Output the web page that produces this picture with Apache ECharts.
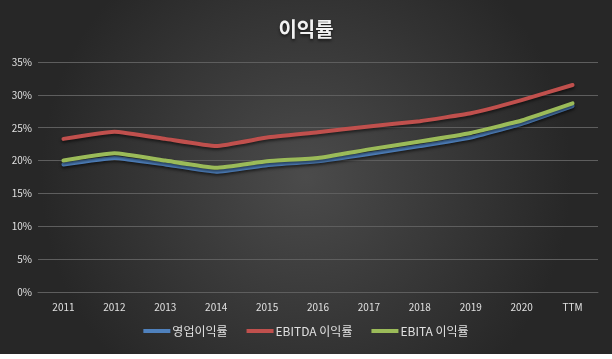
<!DOCTYPE html>
<html>
<head>
<meta charset="utf-8">
<script src="https://cdn.jsdelivr.net/npm/echarts@6/dist/echarts.min.js"></script>
<style>
html,body{margin:0;padding:0;background:#ffffff;}
#chart{width:612px;height:354px;}
</style>
</head>
<body>
<div id="chart"></div>
<script>
const categories = ['2011','2012','2013','2014','2015','2016','2017','2018','2019','2020','TTM'];
const operatingMargin = [19.4, 20.4, 19.4, 18.3, 19.3, 19.9, 21.0, 22.2, 23.5, 25.6, 28.3];
const ebitdaMargin = [23.3, 24.4, 23.3, 22.2, 23.5, 24.3, 25.2, 26.0, 27.2, 29.2, 31.5];
const ebitaMargin = [20.0, 21.1, 20.0, 18.9, 19.9, 20.4, 21.7, 22.9, 24.2, 26.1, 28.7];
const seriesNames = ['영업이익률', 'EBITDA 이익률', 'EBITA 이익률'];
const yTicks = {min: 0, max: 35, interval: 5};

const font = '"Noto Sans CJK KR", "Noto Sans", sans-serif';
const colors = ['#4f81bd', '#c0504d', '#9bbb59'];
const chart = echarts.init(document.getElementById('chart'), null, {renderer: 'canvas'});
function mk(name, data, color) {
  return {
    name: name, type: 'line', data: data, smooth: 0.12, symbol: 'none',
    lineStyle: {width: 4, color: color, shadowColor: 'rgba(0,0,0,0.55)', shadowBlur: 3, shadowOffsetY: 2, cap: 'round', join: 'round'},
    itemStyle: {color: color}
  };
}
chart.setOption({
  backgroundColor: {
    type: 'radial', x: 0.5, y: 0.5, r: 0.75,
    colorStops: [{offset: 0, color: '#4b4b4b'}, {offset: 1, color: '#272727'}]
  },
  textStyle: {fontFamily: font},
  title: {
    text: '이익률', left: 'center', top: 14,
    textStyle: {color: '#f2f2f2', fontSize: 20, fontWeight: 'bold', fontFamily: font,
      textShadowColor: 'rgba(0,0,0,0.6)', textShadowBlur: 3, textShadowOffsetY: 2}
  },
  legend: {
    bottom: 12, left: 'center', itemWidth: 27, itemHeight: 4, itemGap: 19,
    icon: 'rect',
    textStyle: {color: '#e0e0e0', fontSize: 12, fontFamily: font, padding: [0,0,0,-3]},
    data: seriesNames
  },
  grid: {left: 38, right: 14, top: 62, bottom: 62, containLabel: false},
  xAxis: {
    type: 'category', data: categories, boundaryGap: true,
    axisLine: {show: true, lineStyle: {color: '#5e5e5e'}},
    axisTick: {show: false},
    axisLabel: {color: '#e0e0e0', fontSize: 10, margin: 10, fontFamily: font}
  },
  yAxis: {
    type: 'value', min: yTicks.min, max: yTicks.max, interval: yTicks.interval,
    axisLine: {show: false}, axisTick: {show: false},
    axisLabel: {color: '#e0e0e0', fontSize: 10, margin: 6, formatter: v => v + '%', fontFamily: font},
    splitLine: {lineStyle: {color: '#5e5e5e', width: 1}}
  },
  series: [
    mk(seriesNames[0], operatingMargin, colors[0]),
    mk(seriesNames[1], ebitdaMargin, colors[1]),
    mk(seriesNames[2], ebitaMargin, colors[2])
  ]
});
</script>
</body>
</html>
